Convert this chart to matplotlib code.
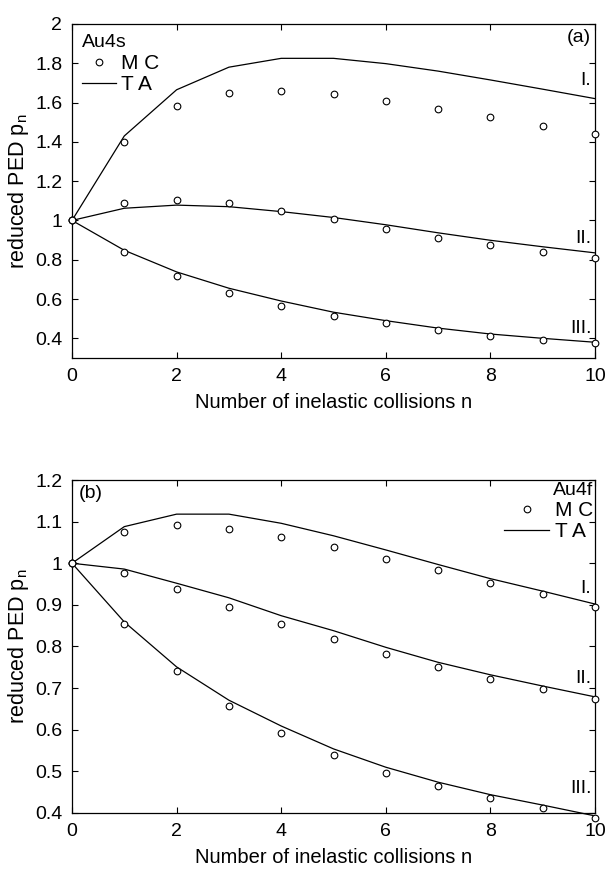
import matplotlib
matplotlib.use("Agg")
import matplotlib.pyplot as plt
from matplotlib.lines import Line2D

plt.rcParams['font.family'] = ['Liberation Sans', 'DejaVu Sans']
plt.rcParams['mathtext.fontset'] = 'custom'
plt.rcParams['mathtext.rm'] = 'Liberation Sans'
plt.rcParams['mathtext.it'] = 'Liberation Sans'

n = [0, 1, 2, 3, 4, 5, 6, 7, 8, 9, 10]

# (a) Au4s
mc_a_I = [1.0, 1.40, 1.58, 1.65, 1.66, 1.645, 1.61, 1.567, 1.525, 1.483, 1.439]
ta_a_I = [1.0, 1.43, 1.665, 1.78, 1.825, 1.825, 1.798, 1.76, 1.715, 1.668, 1.62]
mc_a_II = [1.0, 1.09, 1.105, 1.09, 1.05, 1.005, 0.957, 0.913, 0.873, 0.838, 0.808]
ta_a_II = [1.0, 1.062, 1.078, 1.07, 1.045, 1.015, 0.978, 0.937, 0.899, 0.866, 0.835]
mc_a_III = [1.0, 0.838, 0.717, 0.632, 0.566, 0.515, 0.476, 0.44, 0.413, 0.393, 0.375]
ta_a_III = [1.0, 0.848, 0.738, 0.655, 0.59, 0.533, 0.49, 0.452, 0.422, 0.4, 0.38]

# (b) Au4f
mc_b_I = [1.0, 1.074, 1.091, 1.083, 1.064, 1.038, 1.011, 0.983, 0.953, 0.925, 0.895]
ta_b_I = [1.0, 1.088, 1.118, 1.118, 1.096, 1.066, 1.032, 0.997, 0.963, 0.933, 0.902]
mc_b_II = [1.0, 0.976, 0.937, 0.895, 0.855, 0.817, 0.782, 0.750, 0.723, 0.697, 0.673]
ta_b_II = [1.0, 0.986, 0.952, 0.917, 0.874, 0.838, 0.798, 0.762, 0.732, 0.705, 0.679]
mc_b_III = [1.0, 0.853, 0.742, 0.657, 0.592, 0.539, 0.497, 0.464, 0.436, 0.412, 0.389]
ta_b_III = [1.0, 0.859, 0.751, 0.671, 0.609, 0.554, 0.510, 0.474, 0.444, 0.419, 0.393]

a_yticks = [0.4, 0.6, 0.8, 1.0, 1.2, 1.4, 1.6, 1.8, 2.0]
b_yticks = [0.4, 0.5, 0.6, 0.7, 0.8, 0.9, 1.0, 1.1, 1.2]
xticks = [0, 2, 4, 6, 8, 10]

fig = plt.figure(figsize=(6.05, 8.71), dpi=100)
ax1 = fig.add_axes([0.1190, 0.5890, 0.8645, 0.3835])
ax2 = fig.add_axes([0.1190, 0.0666, 0.8645, 0.3823])


def draw_panel(ax, mc_sets, ta_sets, yticks, ylim):
    for mc, ta in zip(mc_sets, ta_sets):
        ax.plot(n, ta, color='black', lw=0.9, clip_on=False)
        ax.plot(n, mc, ls='none', marker='o', ms=4.8, mfc='white', mec='black',
                mew=0.8, clip_on=False, zorder=3)
    ax.set_xlim(0, 10)
    ax.set_ylim(*ylim)
    ax.set_xticks(xticks)
    ax.set_yticks(yticks)
    ax.set_yticklabels(['%g' % v for v in yticks])
    ax.tick_params(direction='in', top=True, right=True, length=4, width=0.8,
                   labelsize=14, pad=7)
    for s in ax.spines.values():
        s.set_linewidth(0.9)
    ax.set_xlabel('Number of inelastic collisions n', fontsize=14.5, labelpad=6)
    ax.set_ylabel('reduced PED p$_n$', fontsize=15.5, labelpad=3)


draw_panel(ax1, [mc_a_I, mc_a_II, mc_a_III], [ta_a_I, ta_a_II, ta_a_III], a_yticks, (0.3, 2.0))
draw_panel(ax2, [mc_b_I, mc_b_II, mc_b_III], [ta_b_I, ta_b_II, ta_b_III], b_yticks, (0.4, 1.2))

handles = [Line2D([], [], ls='none', marker='o', ms=4.8, mfc='white', mec='black', mew=0.8),
           Line2D([], [], color='black', lw=0.9)]
labels = ['M C', 'T A']

leg1 = ax1.legend(handles, labels, loc='upper left', frameon=False, title='Au4s',
                  alignment='left', fontsize=15, title_fontsize=14, handlelength=1.6,
                  handletextpad=0.25, labelspacing=0.12, borderaxespad=0.2, borderpad=0.3)
leg2 = ax2.legend(handles, labels, loc='upper right', frameon=False, title='Au4f',
                  alignment='right', fontsize=15, title_fontsize=14, handlelength=2.2,
                  handletextpad=0.25, labelspacing=0.1, borderaxespad=0.0, borderpad=0.1)

ax1.text(9.93, 1.93, '(a)', ha='right', va='center', fontsize=14)
ax2.text(0.12, 1.168, '(b)', ha='left', va='center', fontsize=14)

for ax, ys in [(ax1, [1.71, 0.91, 0.45]), (ax2, [0.939, 0.724, 0.458])]:
    for lab, y in zip(['I.', 'II.', 'III.'], ys):
        ax.text(9.93, y, lab, ha='right', va='center', fontsize=14)

fig.savefig('out.png', dpi=100)
